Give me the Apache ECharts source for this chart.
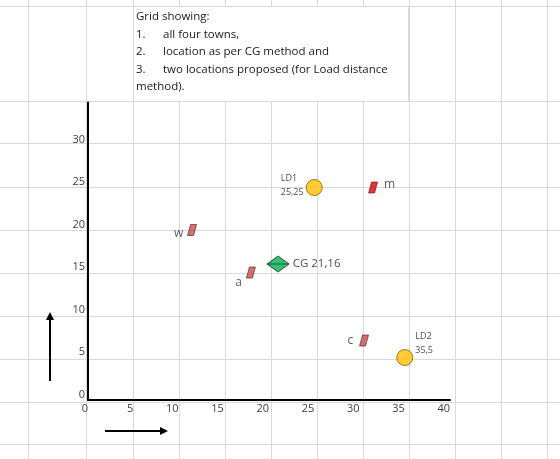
<!DOCTYPE html>
<html>
<head>
<meta charset="utf-8">
<script src="https://cdn.jsdelivr.net/npm/echarts@6/dist/echarts.min.js"></script>
<style>
  html, body { margin: 0; padding: 0; background: #fff; }
  #main { width: 560px; height: 459px; }
</style>
</head>
<body>
<div id="main"></div>
<script>
// towns
const townNames = ['w', 'a', 'm', 'c'];
const townX = [11.5, 18, 31.5, 30.5];
const townY = [20, 15, 25, 7];
// centre of gravity
const cgName = ['CG'];
const cgX = [21];
const cgY = [16];
// load distance proposals
const ldNames = ['LD1', 'LD2'];
const ldX = [25, 35];
const ldY = [25, 5];

const noteLines = [
  ['', 'Grid showing:'],
  ['1.', 'all four towns,'],
  ['2.', 'location as per CG method and'],
  ['3.', 'two locations proposed (for Load distance'],
  ['', 'method).']
];

// spreadsheet cell borders behind the chart
const colEdges = [28, 86, 133, 179, 225, 271, 317, 363, 409, 455, 501, 547];
const rowEdges = [6, 101, 143, 187, 230, 273, 316, 359, 402, 444];

const FONT = '"Open Sans"';
const chart = echarts.init(document.getElementById('main'));

let graphics = [];
colEdges.forEach(x => {
  graphics.push({ type: 'line', z: -10, silent: true,
    shape: { x1: x + 0.5, y1: 0, x2: x + 0.5, y2: 459 },
    style: { stroke: '#d9d9d9', lineWidth: 1 } });
});
rowEdges.forEach(y => {
  graphics.push({ type: 'line', z: -10, silent: true,
    shape: { x1: 0, y1: y + 0.5, x2: 560, y2: y + 0.5 },
    style: { stroke: '#d9d9d9', lineWidth: 1 } });
});
// text box
graphics.push({ type: 'rect', z: -5, silent: true,
  shape: { x: 133.5, y: 6.5, width: 275, height: 95 },
  style: { fill: '#fff', stroke: '#d9d9d9', lineWidth: 1 } });
noteLines.forEach((ln, i) => {
  const y = 17 + i * 17.5;
  if (ln[0]) {
    graphics.push({ type: 'text', z: 5, silent: true, x: 136, y: y,
      style: { text: ln[0], fill: '#1a1a1a', font: '11.5px ' + FONT, verticalAlign: 'middle' } });
  }
  graphics.push({ type: 'text', z: 5, silent: true, x: ln[0] ? 163 : 136, y: y,
    style: { text: ln[1], fill: '#1a1a1a', font: '11.5px ' + FONT, verticalAlign: 'middle' } });
});
// arrows
graphics.push({ type: 'line', z: 5, silent: true,
  shape: { x1: 50, y1: 381, x2: 50, y2: 318 }, style: { stroke: '#000', lineWidth: 2 } });
graphics.push({ type: 'polygon', z: 5, silent: true,
  shape: { points: [[50, 312], [46, 320], [54, 320]] }, style: { fill: '#000' } });
graphics.push({ type: 'line', z: 5, silent: true,
  shape: { x1: 105, y1: 431, x2: 162, y2: 431 }, style: { stroke: '#000', lineWidth: 2 } });
graphics.push({ type: 'polygon', z: 5, silent: true,
  shape: { points: [[168, 431], [160, 427], [160, 435]] }, style: { fill: '#000' } });

// label placement for each town
const townLabel = {
  w: { position: 'left', distance: 4, offset: [0, 4] },
  a: { position: 'left', distance: 4, offset: [0, 10] },
  m: { position: 'right', distance: 6, offset: [0, -3] },
  c: { position: 'left', distance: 6, offset: [0, 0] }
};
const townColor = { w: '#c0504d', a: '#c0504d', m: '#e00000', c: '#c0504d' };

const townData = townNames.map((n, i) => ({
  name: n,
  value: [townX[i], townY[i]],
  itemStyle: { color: townColor[n], borderColor: '#5a1a18', borderWidth: 0.8 },
  label: Object.assign({ show: true, formatter: '{b}', color: '#333',
    fontFamily: FONT, fontSize: 12 }, townLabel[n])
}));

const ldLabelPos = { LD1: [-25, -8], LD2: [19, -20] };
const ldData = ldNames.map((n, i) => ({
  name: n,
  value: [ldX[i], ldY[i]],
  label: { show: true, position: ldLabelPos[n], align: 'left',
    formatter: n + '\n' + ldX[i] + ',' + ldY[i],
    color: '#222', fontFamily: FONT, fontSize: 9, lineHeight: 14 }
}));

const option = {
  backgroundColor: '#fff',
  animation: false,
  graphic: { elements: graphics },
  grid: { left: 88, top: 102.5, width: 362, height: 297.5 },
  xAxis: {
    type: 'value', min: 0, max: 40, interval: 5,
    axisLine: { show: true, onZero: false, lineStyle: { color: '#000', width: 2 } },
    axisTick: { show: false },
    splitLine: { show: false },
    axisLabel: { color: '#404040', fontFamily: FONT, fontSize: 11, margin: 3, align: 'right' }
  },
  yAxis: {
    type: 'value', min: 0, max: 35, interval: 5,
    axisLine: { show: true, onZero: false, lineStyle: { color: '#000', width: 2 } },
    axisTick: { show: false },
    splitLine: { show: false },
    axisLabel: { color: '#404040', fontFamily: FONT, fontSize: 11, margin: 3,
      verticalAlign: 'bottom', formatter: v => (v === 35 ? '' : v) }
  },
  series: [
    {
      name: 'towns', type: 'scatter', z: 3,
      symbol: 'path://M3,0 L9,0 L6,12 L0,12 Z',
      symbolSize: [9, 11],
      data: townData
    },
    {
      name: 'CG', type: 'scatter', z: 3,
      symbol: 'path://M0,8 L11,0 L22,8 L11,16 Z M0,8 L22,8',
      symbolSize: [22, 16],
      itemStyle: { color: '#00b050', borderColor: '#183d22', borderWidth: 1 },
      label: { show: true, position: 'right', distance: 3,
        formatter: p => p.name + ' ' + p.value[0] + ',' + p.value[1],
        color: '#222', fontFamily: FONT, fontSize: 11.5 },
      data: cgName.map((n, i) => ({ name: n, value: [cgX[i], cgY[i]] }))
    },
    {
      name: 'LD', type: 'scatter', z: 3,
      symbol: 'circle', symbolSize: 16,
      itemStyle: { color: '#ffc000', borderColor: '#7f6000', borderWidth: 1 },
      data: ldData
    }
  ]
};

chart.setOption(option);
</script>
</body>
</html>
